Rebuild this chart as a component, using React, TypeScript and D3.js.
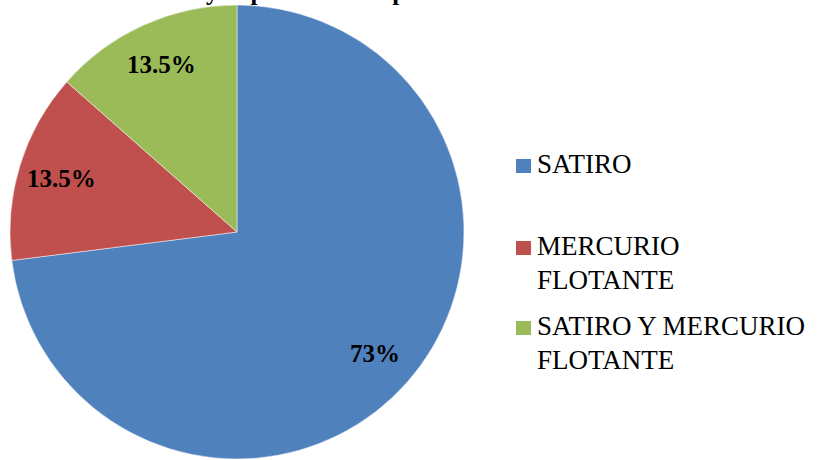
import { useRef, useEffect } from 'react';
import * as d3 from 'd3';

const categories = ['SATIRO', 'MERCURIO FLOTANTE', 'SATIRO Y MERCURIO FLOTANTE'];
const values = [73, 13.5, 13.5];
const labels = ['73%', '13.5%', '13.5%'];
const colors = ['#4F81BD', '#C0504D', '#9BBB59'];
// legend text wrapped as in the original
const legendLines = [['SATIRO'], ['MERCURIO', 'FLOTANTE'], ['SATIRO Y MERCURIO', 'FLOTANTE']];
// title is cut off at the top edge in the reference, only descenders show
const titleStart = 'Tratamiento utilizado ';
const titleEnd = 'y la población de pacientes';

const W = 817;
const H = 460;
const FONT = "'Liberation Serif', 'DejaVu Serif', serif";

export default function App() {
  const svgRef = useRef<SVGSVGElement>(null);

  useEffect(() => {
    document.body.style.margin = '0';
    if (!svgRef.current) return;
    const svg = d3.select(svgRef.current);
    svg.selectAll('*').remove();
    svg.attr('width', W).attr('height', H).style('font-family', FONT);

    svg.append('rect').attr('width', W).attr('height', H).attr('fill', '#fff');

    svg.append('text')
      .attr('x', 206).attr('y', 0)
      .attr('text-anchor', 'end')
      .style('font-family', FONT).attr('font-weight', 700).attr('font-size', 25)
      .text(titleStart);
    svg.append('text')
      .attr('x', 206).attr('y', 0)
      .style('font-family', FONT).attr('font-weight', 700).attr('font-size', 25)
      .text(titleEnd);

    const cx = 237;
    const cy = 232;
    const r = 227;

    const pie = d3.pie<number>().sort(null).value((d) => d);
    const arcs = pie(values);
    const arc = d3.arc<d3.PieArcDatum<number>>().innerRadius(0).outerRadius(r);
    const labelArc = d3.arc<d3.PieArcDatum<number>>().innerRadius(r * 0.81).outerRadius(r * 0.81);

    const g = svg.append('g').attr('transform', `translate(${cx},${cy})`);

    g.selectAll('path')
      .data(arcs)
      .enter()
      .append('path')
      .attr('d', arc)
      .attr('fill', (_, i) => colors[i])
      .attr('stroke', '#ffffff')
      .attr('stroke-opacity', 0.6)
      .attr('stroke-width', 0.8);

    g.selectAll('text.lbl')
      .data(arcs)
      .enter()
      .append('text')
      .attr('class', 'lbl')
      .attr('transform', (d) => `translate(${labelArc.centroid(d)})`)
      .attr('text-anchor', 'middle')
      .attr('dy', '0.35em')
      .style('font-family', FONT)
      .attr('font-weight', 700)
      .attr('font-size', 25)
      .attr('fill', '#000')
      .text((_, i) => labels[i]);

    // legend
    const legendY = [173, 255, 335];
    const leg = svg.append('g');
    categories.forEach((c, i) => {
      leg.append('rect')
        .attr('x', 516).attr('y', legendY[i] - 14)
        .attr('width', 15).attr('height', 14)
        .attr('fill', colors[i]);
      const t = leg.append('text')
        .attr('x', 537).attr('y', legendY[i])
        .style('font-family', FONT)
        .attr('font-size', 27)
        .attr('fill', '#000')
        .attr('data-cat', c);
      t.selectAll('tspan')
        .data(legendLines[i])
        .enter()
        .append('tspan')
        .attr('x', 537)
        .attr('dy', (_, j) => (j === 0 ? 0 : 34))
        .text((s) => s);
    });
  }, []);

  return <svg ref={svgRef} style={{ display: 'block' }} />;
}
